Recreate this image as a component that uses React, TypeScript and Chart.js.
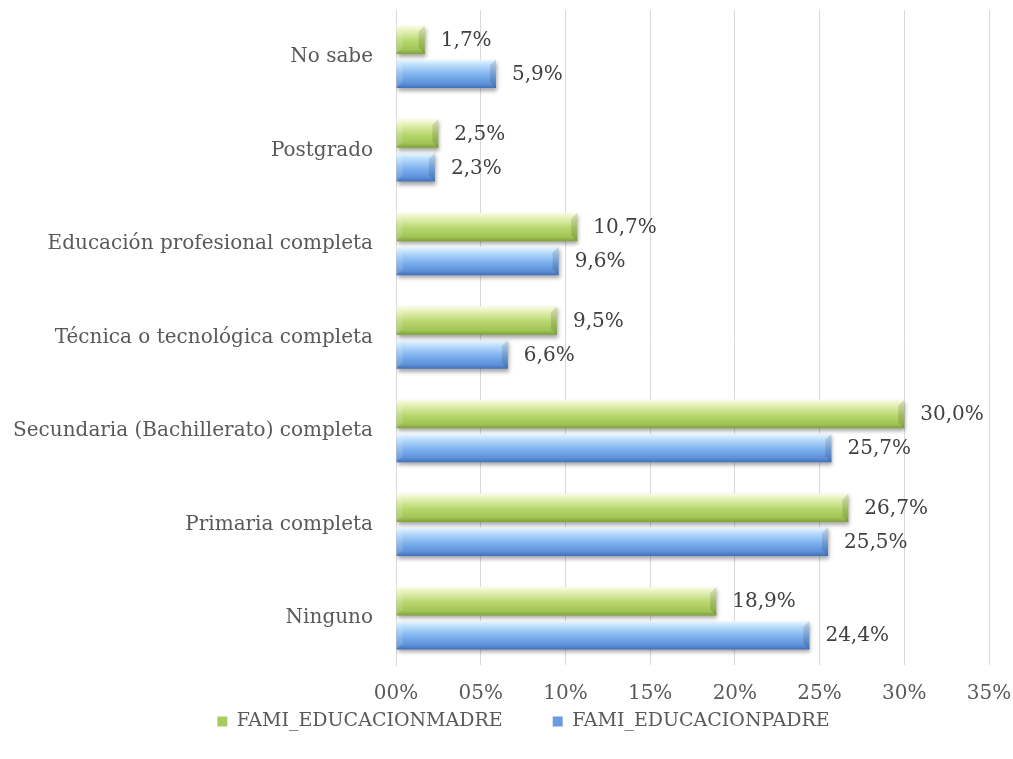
import React, { useEffect, useRef } from "react";
import { Chart, registerables } from "chart.js";
Chart.register(...registerables);

const categories = [
  "No sabe",
  "Postgrado",
  "Educación profesional completa",
  "Técnica o tecnológica completa",
  "Secundaria (Bachillerato) completa",
  "Primaria completa",
  "Ninguno",
];
const madre = [1.7, 2.5, 10.7, 9.5, 30.0, 26.7, 18.9];
const padre = [5.9, 2.3, 9.6, 6.6, 25.7, 25.5, 24.4];
const xTicks = [0, 5, 10, 15, 20, 25, 30, 35];
const seriesNames = ["FAMI_EDUCACIONMADRE", "FAMI_EDUCACIONPADRE"];
const baseColors = ["#a9cd5c", "#6a9ddf"];

const FONT = "'DejaVu Serif', serif";

const gradientPlugin = {
  id: "barGradient",
  beforeDatasetsDraw(chart: any) {
    const ctx = chart.ctx;
    chart.data.datasets.forEach((ds: any, di: number) => {
      const meta = chart.getDatasetMeta(di);
      meta.data.forEach((bar: any) => {
        const h = bar.height;
        const top = bar.y - h / 2;
        const g = ctx.createLinearGradient(0, top, 0, top + h);
        if (di === 0) {
          g.addColorStop(0, "#fbfde8");
          g.addColorStop(0.2, "#e2f0b4");
          g.addColorStop(0.55, "#b7d66c");
          g.addColorStop(0.85, "#a0c456");
          g.addColorStop(1, "#7fa13a");
        } else {
          g.addColorStop(0, "#eef9ff");
          g.addColorStop(0.2, "#b9dcfb");
          g.addColorStop(0.55, "#7db0ee");
          g.addColorStop(0.85, "#5d91d8");
          g.addColorStop(1, "#4270b8");
        }
        bar.options = Object.assign({}, bar.options, { backgroundColor: g });
      });
    });
  },
  beforeDatasetDraw(chart: any) {
    const ctx = chart.ctx;
    ctx.save();
    ctx.shadowColor = "rgba(0,0,0,0.35)";
    ctx.shadowBlur = 4;
    ctx.shadowOffsetY = 3;
    ctx.shadowOffsetX = 1;
  },
  afterDatasetDraw(chart: any, args: any) {
    const ctx = chart.ctx;
    ctx.restore();
    const meta = chart.getDatasetMeta(args.index);
    ctx.save();
    meta.data.forEach((bar: any) => {
      const h = bar.height;
      const top = bar.y - h / 2;
      const bot = bar.y + h / 2;
      const x = bar.x;
      const b = Math.min(6, (x - bar.base) / 2);
      ctx.fillStyle = "rgba(0,0,0,0.12)";
      ctx.beginPath();
      ctx.moveTo(x - b, top + b);
      ctx.lineTo(x, top);
      ctx.lineTo(x, bot);
      ctx.lineTo(x - b, bot - b);
      ctx.closePath();
      ctx.fill();
      ctx.fillStyle = "rgba(255,255,255,0.15)";
      ctx.beginPath();
      ctx.moveTo(bar.base, top);
      ctx.lineTo(bar.base + b, top + b);
      ctx.lineTo(bar.base + b, bot - b);
      ctx.lineTo(bar.base, bot);
      ctx.closePath();
      ctx.fill();
    });
    ctx.restore();
  },
};

const labelPlugin = {
  id: "valueLabels",
  afterDatasetsDraw(chart: any) {
    const ctx = chart.ctx;
    ctx.save();
    ctx.font = `20px ${FONT}`;
    ctx.fillStyle = "#404040";
    ctx.textBaseline = "middle";
    ctx.textAlign = "left";
    chart.data.datasets.forEach((ds: any, di: number) => {
      const meta = chart.getDatasetMeta(di);
      meta.data.forEach((bar: any, i: number) => {
        const v = ds.data[i];
        ctx.fillText(v.toFixed(1).replace(".", ",") + "%", bar.x + 16, bar.y + 1);
      });
    });
    ctx.restore();
  },
};

const legendShift = {
  id: "legendShift",
  afterLayout(chart: any) {
    const lg = chart.legend;
    if (!lg) return;
    const dy = 662 - lg.top;
    lg.top += dy;
    lg.bottom += dy;
    const dx = 29;
    lg.left += dx;
    lg.right += dx;
  },
};

export default function App() {
  const ref = useRef<HTMLCanvasElement | null>(null);
  useEffect(() => {
    document.body.style.margin = "0";
    const chart = new Chart(ref.current as HTMLCanvasElement, {
      type: "bar",
      data: {
        labels: categories,
        datasets: [
          { label: seriesNames[0], data: madre, backgroundColor: baseColors[0], borderWidth: 0 },
          { label: seriesNames[1], data: padre, backgroundColor: baseColors[1], borderWidth: 0 },
        ],
      },
      options: {
        indexAxis: "y",
        animation: false,
        responsive: true,
        maintainAspectRatio: false,
        categoryPercentage: 0.726,
        barPercentage: 0.84,
        layout: { padding: { left: 0, right: 24, top: 10, bottom: -26 } },
        scales: {
          x: {
            min: 0,
            max: 35,
            afterBuildTicks: (s: any) => {
              s.ticks = xTicks.map((v) => ({ value: v }));
            },
            ticks: {
              callback: (v: any) => String(v).padStart(2, "0") + "%",
              font: { family: FONT, size: 20 },
              color: "#595959",
              padding: 0,
            },
            grid: {
              color: "#d9d9d9",
              drawTicks: true,
              tickLength: 17,
              tickColor: "rgba(0,0,0,0)",
            },
            border: { display: false },
          },
          y: {
            afterFit: (s: any) => {
              s.width = 396;
            },
            ticks: {
              font: { family: FONT, size: 20, lineHeight: 1.0 },
              color: "#595959",
              padding: 0,
            },
            grid: { display: false, drawTicks: true, tickLength: 23 },
            border: { display: true, color: "#d9d9d9" },
          },
        },
        plugins: {
          legend: {
            position: "bottom",
            labels: {
              font: { family: FONT, size: 19 },
              color: "#595959",
              boxWidth: 10,
              boxHeight: 10,
              padding: 50,
            },
          },
          tooltip: { enabled: false },
        },
      },
      plugins: [gradientPlugin, labelPlugin, legendShift],
    });
    return () => chart.destroy();
  }, []);
  return (
    <div style={{ width: "1013px", height: "759px", position: "relative" }}>
      <canvas ref={ref} />
    </div>
  );
}
